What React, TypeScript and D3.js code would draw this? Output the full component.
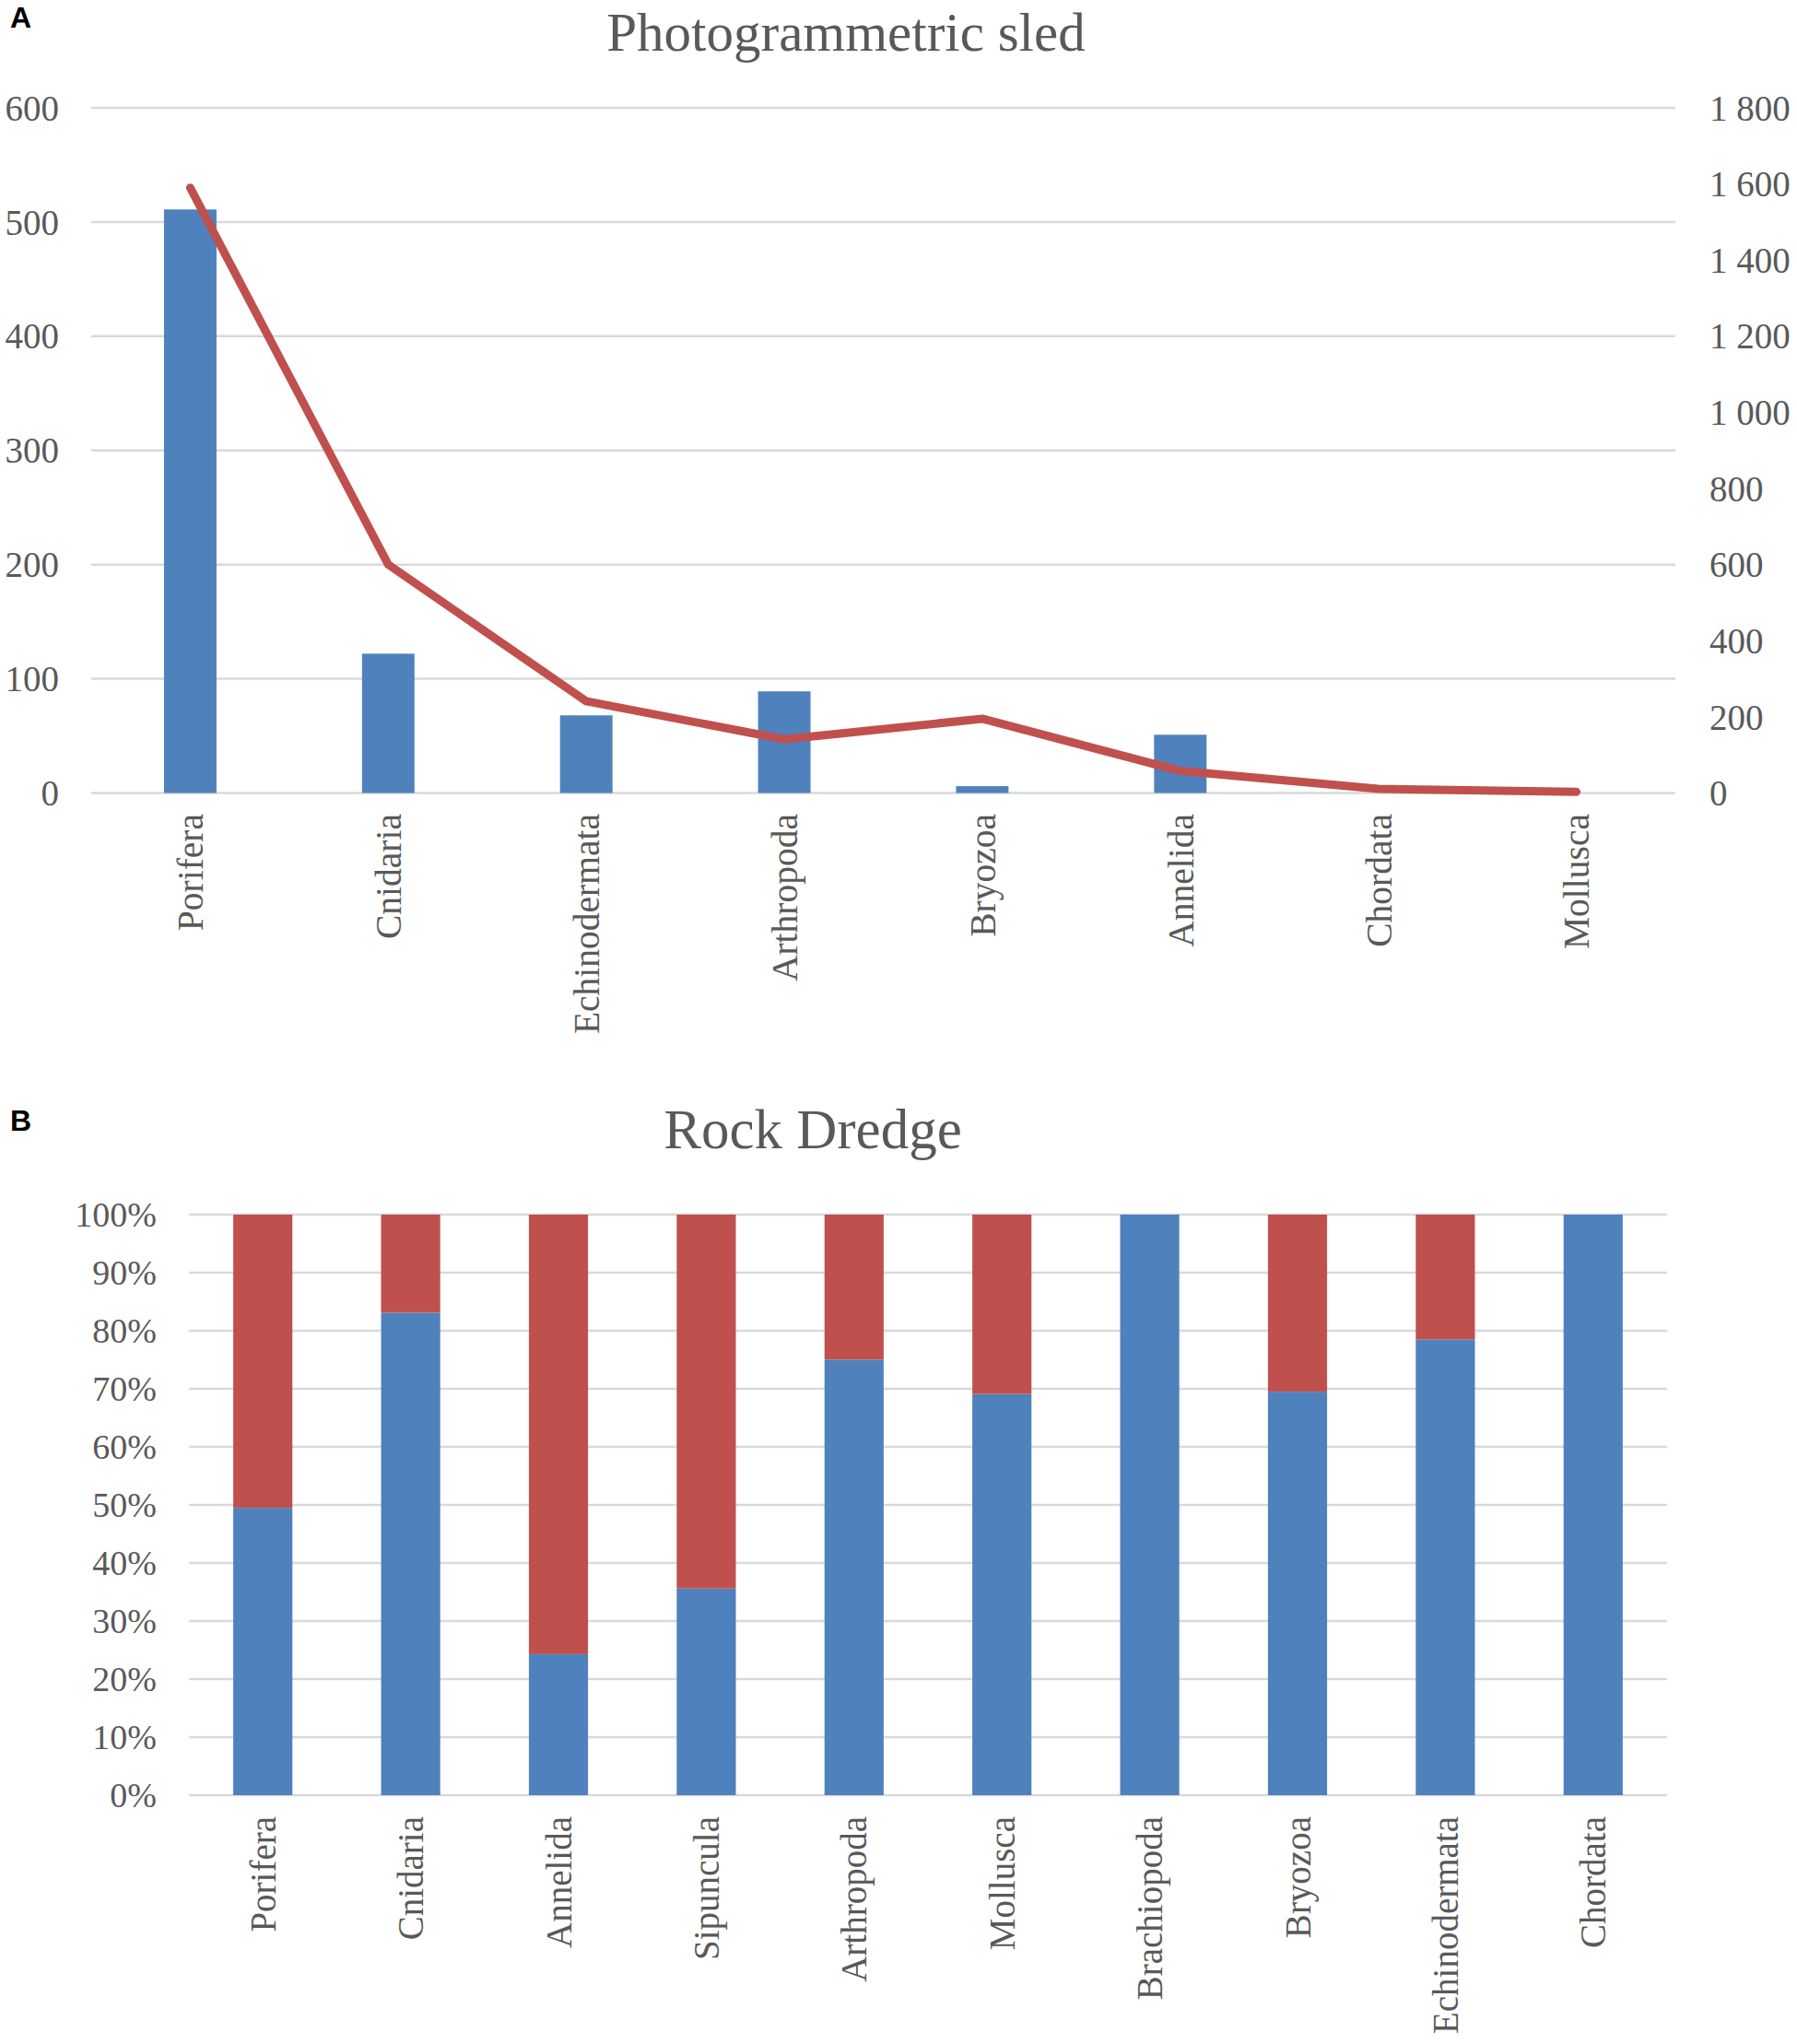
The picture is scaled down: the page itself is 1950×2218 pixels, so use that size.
import React from 'react';
import * as d3 from 'd3';

// panel A - photogrammetric sled
const sledTaxa = ['Porifera', 'Cnidaria', 'Echinodermata', 'Arthropoda', 'Bryozoa', 'Annelida', 'Chordata', 'Mollusca'];
const sledBars = [511, 122, 68, 89, 6, 51, 0, 0];
const sledLine = [1590, 600, 241, 141, 195, 58, 11, 3];
const sledLeftTicks = [0, 100, 200, 300, 400, 500, 600];
const sledRightTicks = [0, 200, 400, 600, 800, 1000, 1200, 1400, 1600, 1800];

// panel B - rock dredge (percent of each taxon)
const dredgeTaxa = ['Porifera', 'Cnidaria', 'Annelida', 'Sipuncula', 'Arthropoda', 'Mollusca', 'Brachiopoda', 'Bryozoa', 'Echinodermata', 'Chordata'];
const dredgeBlue = [49.5, 83.1, 24.3, 35.6, 75.0, 69.1, 100, 69.5, 78.5, 100];
const dredgeRed = [50.5, 16.9, 75.7, 64.4, 25.0, 30.9, 0, 30.5, 21.5, 0];
const dredgeTicks = [0, 10, 20, 30, 40, 50, 60, 70, 80, 90, 100];

const BLUE = '#4F81BD';
const RED = '#C0504D';
const GRID = '#D9D9D9';
const TEXT = '#595959';
const SERIF = '"Liberation Serif", "Times New Roman", serif';

function SledChart() {
    const left = 99, right = 1818, top = 117, bottom = 860.5;
    const x = d3.scaleBand().domain(sledTaxa).range([left, right]).paddingInner(0.735).paddingOuter(0.3675);
    const yL = d3.scaleLinear().domain([0, 600]).range([bottom, top]);
    const yR = d3.scaleLinear().domain([0, 1800]).range([bottom, top]);
    const fmt = (v: number) => d3.format(',')(v).replace(/,/g, ' ');
    const line = d3.line<number>()
        .x((d, i) => (x(sledTaxa[i]) as number) + x.bandwidth() / 2)
        .y(d => yR(d));

    return (
        <g>
            <text x={11} y={30} fontFamily='"Liberation Sans", Arial, sans-serif' fontWeight="bold" fontSize={32} fill="#000">A</text>
            <text x={918} y={55} textAnchor="middle" fontFamily={SERIF} fontSize={59} fill={TEXT}>Photogrammetric sled</text>
            {sledLeftTicks.map(t => (
                <g key={t}>
                    <line x1={left} x2={right} y1={yL(t)} y2={yL(t)} stroke={GRID} strokeWidth={2.5} />
                    <text x={64} y={yL(t)} dy="0.35em" textAnchor="end" fontFamily={SERIF} fontSize={39} fill={TEXT}>{t}</text>
                </g>
            ))}
            {sledRightTicks.map(t => (
                <text key={t} x={1855} y={yR(t)} dy="0.35em" fontFamily={SERIF} fontSize={39} fill={TEXT}>{fmt(t)}</text>
            ))}
            {sledBars.map((v, i) => (
                <rect key={i} x={x(sledTaxa[i])} y={yL(v)} width={x.bandwidth()} height={bottom - yL(v)} fill={BLUE} />
            ))}
            <path d={line(sledLine) || ''} fill="none" stroke={RED} strokeWidth={9} strokeLinecap="round" strokeLinejoin="round" />
            {sledTaxa.map(c => {
                const cx = (x(c) as number) + x.bandwidth() / 2;
                return (
                    <text key={c} transform={`translate(${cx},883) rotate(-90)`} dy="0.35em" textAnchor="end"
                        fontFamily={SERIF} fontSize={39.5} fill={TEXT}>{c}</text>
                );
            })}
        </g>
    );
}

function DredgeChart() {
    const left = 205, right = 1809, top = 1318, bottom = 1948;
    const x = d3.scaleBand().domain(dredgeTaxa).range([left, right]).paddingInner(0.6).paddingOuter(0.3);
    const y = d3.scaleLinear().domain([0, 100]).range([bottom, top]);
    const stack = d3.stack<number>().keys(['blue', 'red'])
        .value((i, key) => (key === 'blue' ? dredgeBlue[i] : dredgeRed[i]));
    const series = stack(dredgeTaxa.map((_, i) => i));
    const colors = [BLUE, RED];

    return (
        <g>
            <text x={11} y={1227} fontFamily='"Liberation Sans", Arial, sans-serif' fontWeight="bold" fontSize={32} fill="#000">B</text>
            <text x={882} y={1246} textAnchor="middle" fontFamily={SERIF} fontSize={61} fill={TEXT}>Rock Dredge</text>
            {dredgeTicks.map(t => (
                <g key={t}>
                    <line x1={left} x2={right} y1={y(t)} y2={y(t)} stroke={GRID} strokeWidth={2.5} />
                    <text x={170} y={y(t)} dy="0.35em" textAnchor="end" fontFamily={SERIF} fontSize={38} fill={TEXT}>{t}%</text>
                </g>
            ))}
            {series.map((s, si) => (
                <g key={si} fill={colors[si]}>
                    {s.map((d, i) => (
                        <rect key={i} x={x(dredgeTaxa[i])} y={y(d[1])} width={x.bandwidth()} height={Math.max(0, y(d[0]) - y(d[1]))} />
                    ))}
                </g>
            ))}
            {dredgeTaxa.map(c => {
                const cx = (x(c) as number) + x.bandwidth() / 2;
                return (
                    <text key={c} transform={`translate(${cx},1971) rotate(-90)`} dy="0.35em" textAnchor="end"
                        fontFamily={SERIF} fontSize={39} fill={TEXT}>{c}</text>
                );
            })}
        </g>
    );
}

export default function App() {
    return (
        <svg width={1950} height={2218} style={{ position: 'absolute', left: 0, top: 0, background: '#fff' }}>
            <rect width={1950} height={2218} fill="#fff" />
            <SledChart />
            <DredgeChart />
        </svg>
    );
}
